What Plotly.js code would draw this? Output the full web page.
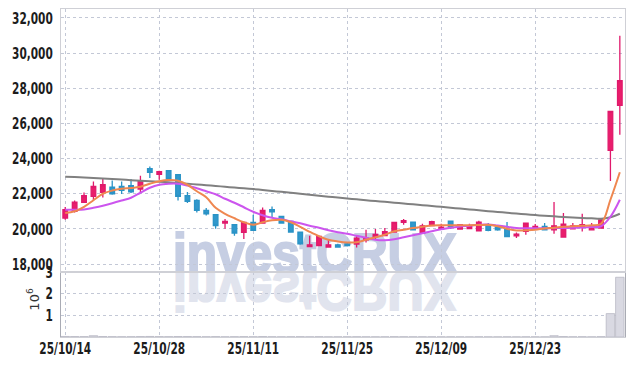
<!DOCTYPE html>
<html>
<head>
<meta charset="utf-8">
<script src="https://cdn.plot.ly/plotly-3.0.1.min.js"></script>
<style>
html,body{margin:0;padding:0;background:#fff;}
#wrap{position:relative;width:634px;height:366px;overflow:hidden;}
#chart{position:absolute;left:0;top:0;width:634px;height:366px;}
.wm{position:absolute;font-family:"Liberation Sans",Arial,sans-serif;font-weight:bold;font-size:56px;line-height:56px;height:56px;white-space:nowrap;transform-origin:0 50%;}
</style>
</head>
<body>
<div id="wrap">
  <div class="wm" id="wm1" style="left:173px;top:224.6px;color:#c6cee3;-webkit-text-stroke:2.2px #c6cee3;transform:scaleX(0.885);">investCRUX</div>
  <div class="wm" id="wm2" style="left:173px;top:263.4px;color:#e1e4ee;-webkit-text-stroke:2.2px #e1e4ee;transform:scaleX(0.885) scaleY(-1);">investCRUX</div>
  <div id="chart"></div>
</div>
<script>
const dates = ['2025-10-14','2025-10-15','2025-10-16','2025-10-17','2025-10-20','2025-10-21','2025-10-22','2025-10-23','2025-10-24','2025-10-27',
'2025-10-28','2025-10-29','2025-10-30','2025-10-31','2025-11-03','2025-11-04','2025-11-05','2025-11-06','2025-11-07','2025-11-10',
'2025-11-11','2025-11-12','2025-11-13','2025-11-14','2025-11-17','2025-11-18','2025-11-19','2025-11-20','2025-11-21','2025-11-24',
'2025-11-25','2025-11-26','2025-11-27','2025-11-28','2025-12-01','2025-12-02','2025-12-03','2025-12-04','2025-12-05','2025-12-08',
'2025-12-09','2025-12-10','2025-12-11','2025-12-12','2025-12-15','2025-12-16','2025-12-17','2025-12-18','2025-12-19','2025-12-22',
'2025-12-23','2025-12-24','2025-12-26','2025-12-29','2025-12-30','2026-01-02','2026-01-05','2026-01-06','2026-01-07','2026-01-08'];

const tickDates = ['2025-10-14','2025-10-28','2025-11-11','2025-11-25','2025-12-09','2025-12-23'];
const tickLabels = ['25/10/14','25/10/28','25/11/11','25/11/25','25/12/09','25/12/23'];

const opens = [20620,20996,21508,21849,22077,22384,22418,22458,22270,23425,
23101,23312,23084,21889,21622,21053,20808,20336,20239,19801,
20370,20336,21092,20711,20427,19824,19004,19061,18970,19101,
19150,19141,19385,19573,19630,19824,20370,20393,19767,20199,
19994,20450,19994,20028,19898,20239,20085,19994,19613,19858,
20051,20142,19954,19539,20011,20108,19954,20051,24467,27027];
const highs = [21246,21622,22077,22703,22856,22760,22703,22839,23027,23556,
23312,23340,23112,22100,21690,21189,20836,20563,20267,20410,
20808,21223,21280,20751,20450,19840,19613,19613,19385,19158,
19230,19613,19954,19994,20051,20410,20563,20410,20296,20467,
20296,20467,20267,20296,20467,20336,20222,20393,19801,20353,
20279,20336,21531,20905,20336,20865,20336,20580,26726,30993];
const lows = [20523,20939,21474,21622,21792,21946,21986,22043,22100,22896,
22800,22760,21622,21474,20939,20768,20011,20011,19613,19425,
19898,20307,20677,20296,19784,19101,18959,19016,18930,18930,
19000,18947,19232,19385,19585,19812,20239,19926,19727,20154,
19954,19994,19954,19983,19869,19869,19898,19556,19482,19670,
20011,19926,19727,19528,19983,19858,19926,20011,22726,25360];
const closes = [21092,21531,21889,22418,22515,22003,22191,22117,22743,23215,
23255,22839,21849,21565,21053,20865,20199,20427,19767,20370,
19915,21053,20979,20336,19824,19158,19101,19573,19101,18970,
19060,19482,19482,19687,19841,20370,20467,19954,20182,20410,
20108,20142,20239,20165,20393,19915,19954,19573,19710,20336,
20142,19954,20182,20279,20182,20239,20142,20523,26686,28433];

const ma5 = [20905,21007,21263,21633,22003,22185,22287,22327,22401,22572,
22714,22782,22743,22515,22145,21804,21206,20865,20609,20381,
20239,20381,20495,20523,20381,20125,19841,19585,19385,19289,
19232,19243,19385,19528,19670,19869,19954,20051,20125,20199,
20211,20211,20211,20211,20222,20239,20154,20011,19915,19926,
19954,20028,20068,20125,20154,20182,20211,20296,21661,23226];
const ma10 = [21092,21092,21110,21206,21320,21462,21616,21775,22060,22344,
22515,22572,22572,22469,22316,22145,21974,21718,21491,21235,
20979,20780,20637,20552,20438,20324,20182,20068,19926,19812,
19727,19613,19499,19385,19357,19414,19528,19642,19755,19869,
19983,20068,20142,20182,20239,20250,20193,20125,20051,20040,
20040,20040,20051,20057,20068,20080,20108,20154,20694,21661];
const ma60 = [22970,22953,22930,22902,22873,22845,22811,22777,22748,22720,
22686,22652,22612,22572,22532,22487,22447,22401,22356,22316,
22270,22219,22162,22111,22054,22003,21946,21895,21838,21787,
21735,21684,21633,21588,21542,21496,21445,21400,21354,21303,
21257,21206,21161,21110,21064,21013,20967,20922,20876,20836,
20791,20751,20717,20683,20654,20626,20603,20580,20666,20865];

const volumes = [0.025,0.02,0.018,0.06,0.022,0.015,0.012,0.014,0.02,0.025,
0.018,0.015,0.022,0.02,0.016,0.012,0.018,0.01,0.014,0.016,
0.012,0.02,0.012,0.01,0.012,0.015,0.01,0.014,0.008,0.009,
0.01,0.012,0.01,0.009,0.01,0.015,0.012,0.01,0.011,0.01,
0.008,0.009,0.008,0.007,0.01,0.008,0.007,0.009,0.007,0.01,
0.008,0.007,0.06,0.02,0.01,0.012,0.008,0.015,1.08,2.76];

const volumeUnit = '10<sup>6</sup>';

const tickFont = {family:'"DejaVu Sans",sans-serif', size:16, color:'#1c1c1c', weight:'bold'};
const gridC = '#c3c8d6';
const lineC = '#cfd0d6';

const traces = [
  {type:'candlestick', x:dates, open:opens, high:highs, low:lows, close:closes,
   xaxis:'x2', yaxis:'y',
   increasing:{line:{color:'#e0196c', width:1.3}, fillcolor:'#e91e6b'},
   decreasing:{line:{color:'#2a93c6', width:1.3}, fillcolor:'#3098cc'},
   whiskerwidth:0, showlegend:false, hoverinfo:'skip'},
  {type:'scatter', mode:'lines', x:dates, y:ma60, xaxis:'x2', yaxis:'y',
   line:{color:'#808080', width:2, shape:'spline'}, showlegend:false, hoverinfo:'skip'},
  {type:'scatter', mode:'lines', x:dates, y:ma10, xaxis:'x2', yaxis:'y',
   line:{color:'#cc55ee', width:2, shape:'spline'}, showlegend:false, hoverinfo:'skip'},
  {type:'scatter', mode:'lines', x:dates, y:ma5, xaxis:'x2', yaxis:'y',
   line:{color:'#ef8750', width:2, shape:'spline'}, showlegend:false, hoverinfo:'skip'},
  {type:'bar', x:dates, y:volumes, xaxis:'x', yaxis:'y2',
   marker:{color:'#d9d9e2', line:{color:'#b9b9c4', width:0.8}}, showlegend:false, hoverinfo:'skip'}
];

const xrange = [-0.45, 59.55];
const layout = {
  width:634, height:366,
  margin:{l:61, r:9, t:9, b:29, pad:0},
  paper_bgcolor:'rgba(0,0,0,0)', plot_bgcolor:'rgba(0,0,0,0)',
  showlegend:false, bargap:0.1,
  xaxis:{type:'category', range:xrange, anchor:'y2', domain:[0,1],
    tickvals:tickDates, ticktext:tickLabels, tickfont:tickFont, ticks:'', ticklabelstandoff:-3,
    showgrid:true, gridcolor:gridC, griddash:'dot', gridwidth:1,
    showline:true, linecolor:lineC, linewidth:1, mirror:true, zeroline:false,
    rangeslider:{visible:false}, fixedrange:true},
  xaxis2:{type:'category', range:xrange, anchor:'y', matches:'x', domain:[0,1],
    tickvals:tickDates, ticktext:tickLabels, showticklabels:false, ticks:'',
    showgrid:true, gridcolor:gridC, griddash:'dot', gridwidth:1,
    showline:true, linecolor:lineC, linewidth:1, mirror:true, zeroline:false,
    rangeslider:{visible:false}},
  yaxis:{domain:[0.198,1], range:[17550,32510], anchor:'x2',
    tickvals:[18000,20000,22000,24000,26000,28000,30000,32000], tickformat:',d',
    tickfont:tickFont, ticks:'', ticklabelstandoff:4,
    showgrid:true, gridcolor:gridC, griddash:'dot', gridwidth:1,
    showline:true, linecolor:lineC, linewidth:1, mirror:true, zeroline:false},
  yaxis2:{domain:[0,0.198], range:[0,3], anchor:'x',
    tickvals:[1,2,3], tickfont:tickFont, ticks:'', ticklabelstandoff:4,
    showgrid:true, gridcolor:gridC, griddash:'dot', gridwidth:1,
    showline:true, linecolor:'#a9abb4', linewidth:1, mirror:true, zeroline:false},
  annotations:[{text:volumeUnit, xref:'paper', yref:'paper', x:-0.0496, y:0.114,
    xanchor:'center', yanchor:'middle', textangle:-90, showarrow:false,
    font:{family:'"DejaVu Sans",sans-serif', size:13, color:'#333'}}]
};

Plotly.newPlot('chart', traces, layout, {displayModeBar:false, staticPlot:true}).then(function(){
  // narrow the tick labels to mimic the condensed face of the reference
  document.querySelectorAll('#chart .xtick text, #chart .ytick text, #chart .y2tick text').forEach(function(t){
    var x = parseFloat(t.getAttribute('x')) || 0;
    var tr = t.getAttribute('transform') || '';
    t.setAttribute('transform', tr + ' translate(' + x + ',0) scale(0.66,1) translate(' + (-x) + ',0)');
  });
});
</script>
</body>
</html>
